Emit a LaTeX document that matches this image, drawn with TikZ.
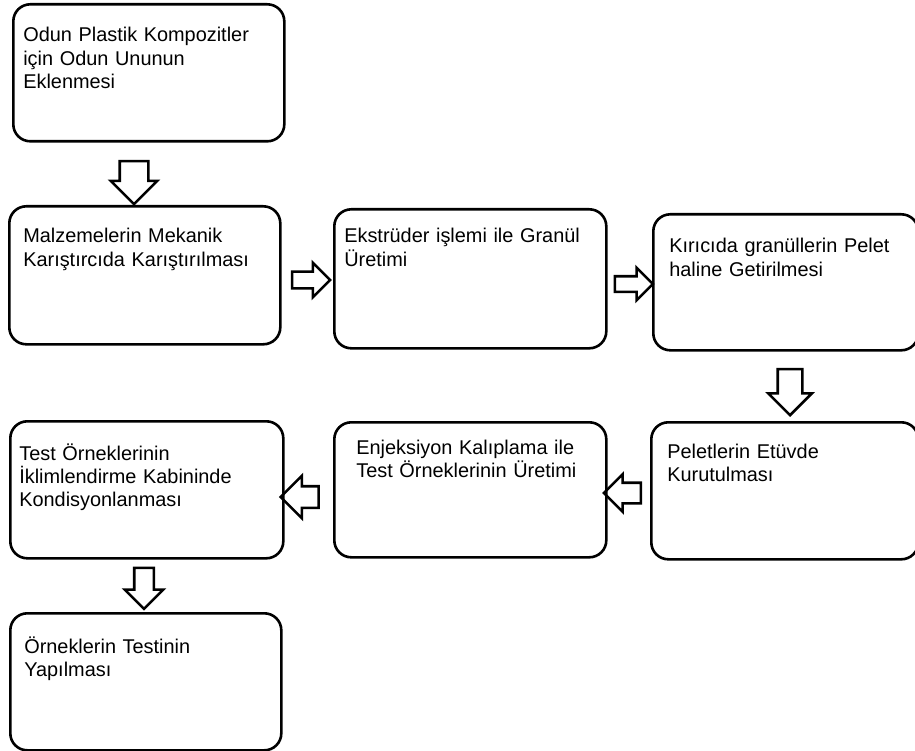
\documentclass[tikz,border=0pt]{standalone}
\usepackage{fontspec}
\setmainfont{Liberation Sans}
\usetikzlibrary{shapes.arrows}

\begin{document}
\begin{tikzpicture}[x=1pt, y=-1pt, line width=2.6pt,
  box/.style={draw, rounded corners=17pt, anchor=north west, inner sep=0pt},
  txt/.style={anchor=base west, align=left, inner sep=0pt, text width=250pt,
    font=\fontsize{19.9}{23.3}\selectfont},
  blk/.style args={#1 and #2}{draw, single arrow, inner xsep=0pt, inner ysep=#1,
    single arrow head extend=#2, single arrow tip angle=90}]
  \useasboundingbox (0,0) rectangle (915,751);
  % steps
  \node (A) [box, minimum width=271pt, minimum height=137pt] at (12,3) {};
  \node (B) [box, minimum width=271pt, minimum height=138pt] at (8,205) {};
  \node (C) [box, minimum width=272pt, minimum height=139pt] at (333,208) {};
  \node (D) [box, minimum width=265pt, minimum height=136pt] at (652,213) {};
  \node (E) [box, minimum width=267pt, minimum height=137pt] at (650,421) {};
  \node (F) [box, minimum width=272pt, minimum height=135pt] at (333,421) {};
  \node (G) [box, minimum width=273pt, minimum height=137pt] at (9,420) {};
  \node (H) [box, minimum width=271pt, minimum height=137pt] at (9,612) {};
  \node (A-t) [txt] at (22,42) {Odun Plastik Kompozitler\\için Odun Ununun\\Eklenmesi};
  \node (B-t) [txt] at (22,243) {Malzemelerin Mekanik\\Karıştırcıda Karıştırılması};
  \node (C-t) [txt] at (343,243) {Ekstrüder işlemi ile Granül\\Üretimi};
  \node (D-t) [txt] at (668,253) {Kırıcıda granüllerin Pelet\\haline Getirilmesi};
  \node (E-t) [txt] at (666,458) {Peletlerin Etüvde\\Kurutulması};
  \node (F-t) [txt] at (355,454) {Enjeksiyon Kalıplama ile\\Test Örneklerinin Üretimi};
  \node (G-t) [txt] at (18,460) {Test Örneklerinin\\İklimlendirme Kabininde\\Kondisyonlanması};
  \node (H-t) [txt] at (23,653) {Örneklerin Testinin\\Yapılması};
  % arrows
  \node (a1) [blk=13pt and 9pt, rotate=-90, minimum height=43pt] at (134,175.5) {};
  \node (a2) [blk=7pt and 9pt, minimum height=38pt] at (307,280) {};
  \node (a3) [blk=6.5pt and 8.5pt, minimum height=38pt] at (630,284) {};
  \node (a4) [blk=11pt and 9.5pt, rotate=-90, minimum height=46pt] at (790,386) {};
  \node (a5) [blk=9pt and 8.5pt, rotate=180, minimum height=37pt] at (627.5,493) {};
  \node (a6) [blk=9.5pt and 10.5pt, rotate=180, minimum height=38pt] at (305,497) {};
  \node (a7) [blk=8.5pt and 9.5pt, rotate=-90, minimum height=41pt] at (144,583.5) {};
\end{tikzpicture}
\end{document}
